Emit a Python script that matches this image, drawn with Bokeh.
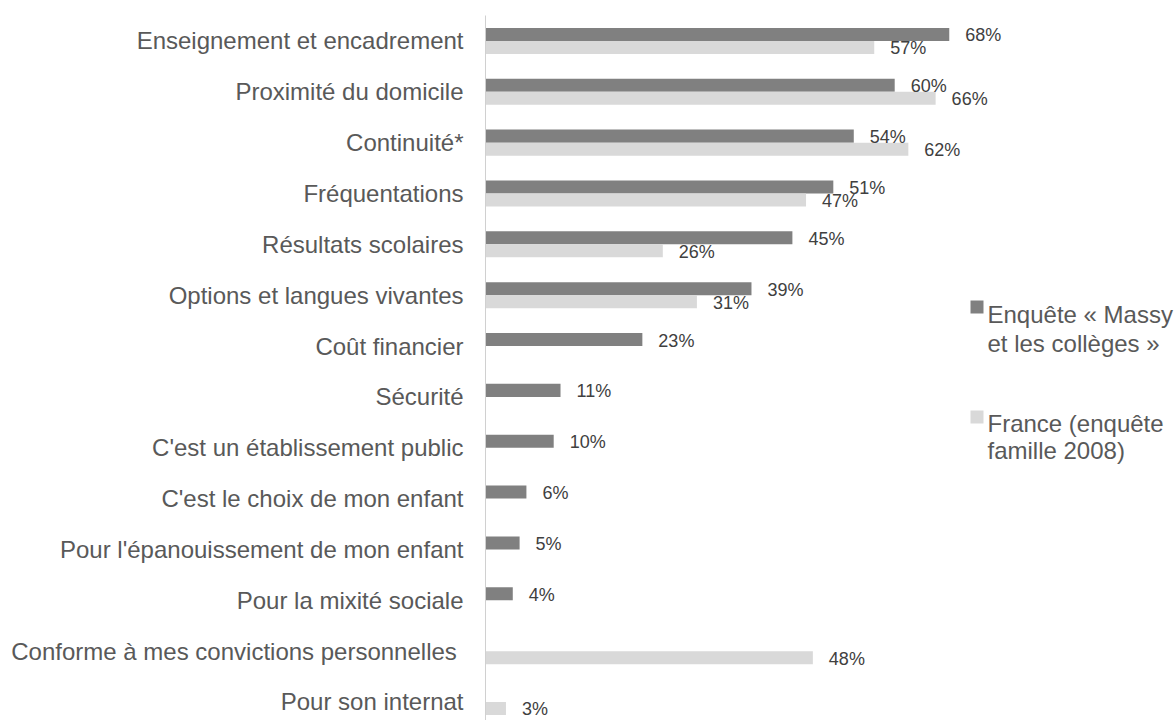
from bokeh.plotting import figure
from bokeh.models import Range1d, FixedTicker, ColumnDataSource, Label, BoxAnnotation
from bokeh.embed import file_html
from bokeh.resources import INLINE
from bokeh.core.properties import value

categories = [
    "Enseignement et encadrement",
    "Proximité du domicile",
    "Continuité*",
    "Fréquentations",
    "Résultats scolaires",
    "Options et langues vivantes",
    "Coût financier",
    "Sécurité",
    "C'est un établissement public",
    "C'est le choix de mon enfant",
    "Pour l'épanouissement de mon enfant",
    "Pour la mixité sociale",
    "Conforme à mes convictions personnelles\u00a0",
    "Pour son internat",
]
massy = [68, 60, 54, 51, 45, 39, 23, 11, 10, 6, 5, 4, None, None]
france = [57, 66, 62, 47, 26, 31, None, None, None, None, None, None, 48, 3]
series_names = ["Enquête « Massy", "et les collèges »", "France (enquête", "famille 2008)"]

DARK = "#808080"
LIGHT = "#d9d9d9"
TXT = "#595959"
VAL = "#404040"
FONT = "Liberation Sans"
BAR_H = 0.256

FRAME_L = 485
FRAME_T = 15
W, H = 1175, 720
px_per_x = 6.82
px_per_y = 50.85

x_end = (W - FRAME_L) / px_per_x
y_end = -0.5 + (H - FRAME_T) / px_per_y

p = figure(width=W, height=H, output_backend="svg", toolbar_location=None,
           x_range=Range1d(0, x_end), y_range=Range1d(start=y_end, end=-0.5),
           x_axis_location=None, min_border_left=FRAME_L, min_border_right=0,
           min_border_top=FRAME_T, min_border_bottom=0, title=None)
p.outline_line_color = None
p.xgrid.visible = False
p.ygrid.visible = False
p.background_fill_color = "white"
p.border_fill_color = "white"


def make_source(vals, shift):
    xs, ys, labels = [], [], []
    for i, v in enumerate(vals):
        if v is None:
            continue
        xs.append(v)
        ys.append(i + shift)
        labels.append(f"{v}%")
    return ColumnDataSource(dict(x=xs, y=ys, label=labels))


src_m = make_source(massy, -BAR_H / 2)
src_f = make_source(france, BAR_H / 2)

p.hbar(y="y", right="x", left=0, height=BAR_H, source=src_m, fill_color=DARK, line_color=None)
p.hbar(y="y", right="x", left=0, height=BAR_H, source=src_f, fill_color=LIGHT, line_color=None)

for src in (src_m, src_f):
    p.text(x="x", y="y", text="label", source=src, x_offset=16, y_offset=1,
           text_align="left", text_baseline="middle", text_font=value(FONT),
           text_font_size="18px", text_color=VAL)

ax = p.yaxis[0]
ax.ticker = FixedTicker(ticks=list(range(len(categories))))
ax.major_label_overrides = {i: c for i, c in enumerate(categories)}
ax.major_tick_in = 0
ax.major_tick_out = 0
ax.minor_tick_in = 0
ax.minor_tick_out = 0
ax.major_label_standoff = 22
ax.major_label_text_font = FONT
ax.major_label_text_font_size = "24px"
ax.major_label_text_color = TXT
ax.axis_line_color = "#d0d0d0"
ax.axis_line_width = 1


def dx(px):
    return (px - FRAME_L) / px_per_x


def dy(py):
    return -0.5 + (py - FRAME_T) / px_per_y


p.add_layout(BoxAnnotation(left=dx(970), right=dx(983), top=dy(300), bottom=dy(313),
                           fill_color=DARK, fill_alpha=1, line_color=None))
p.add_layout(BoxAnnotation(left=dx(970), right=dx(983), top=dy(410), bottom=dy(423),
                           fill_color=LIGHT, fill_alpha=1, line_color=None))
for txt, base in zip(series_names, [314, 342.7, 422.7, 450]):
    p.add_layout(Label(x=dx(987), y=dy(base), text=txt, text_font=FONT,
                       text_font_size="24px", text_color=TXT,
                       text_baseline="alphabetic", text_align="left"))

open("out.html", "w").write(file_html(p, INLINE))
